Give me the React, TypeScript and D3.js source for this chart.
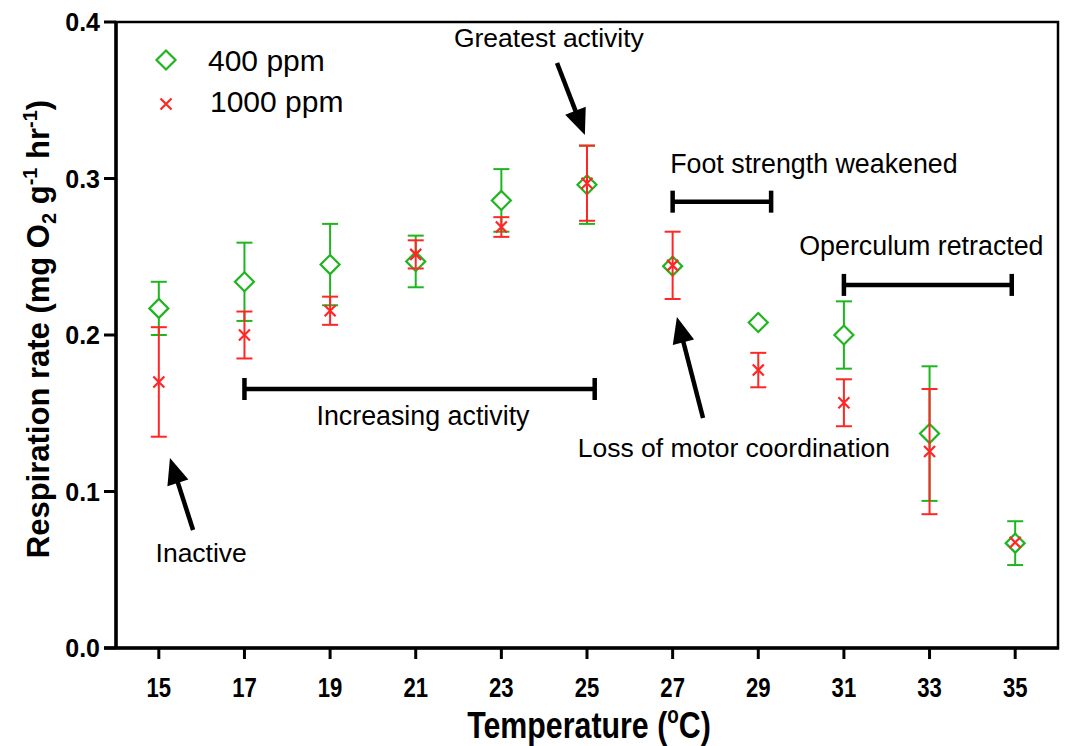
import React from 'react';
import * as d3 from 'd3';

// temperature (°C) and respiration rate (mg O2 g-1 hr-1)
const temps = [15, 17, 19, 21, 23, 25, 27, 29, 31, 33, 35];
const mean400 = [0.217, 0.234, 0.245, 0.247, 0.286, 0.296, 0.244, 0.208, 0.2, 0.137, 0.067];
const err400 = [0.017, 0.025, 0.026, 0.0165, 0.02, 0.025, 0, 0, 0.0215, 0.043, 0.014];
const mean1000 = [0.17, 0.2, 0.2155, 0.2515, 0.269, 0.297, 0.2445, 0.1776, 0.1567, 0.1255, 0.0675];
const err1000 = [0.035, 0.015, 0.009, 0.009, 0.0063, 0.024, 0.0215, 0.011, 0.015, 0.04, 0];
const yTicks = [0, 0.1, 0.2, 0.3, 0.4];

// annotations, in data units
const brackets = [
  { from: 17, to: 25.18, y: 0.1655, label: 'Increasing activity', lx: 21.17, ly: 0.1425 },
  { from: 27, to: 29.3, y: 0.2852, label: 'Foot strength weakened', lx: 30.3, ly: 0.3035 },
  { from: 31, to: 34.92, y: 0.232, label: 'Operculum retracted', lx: 32.81, ly: 0.2511 },
];
const arrows = [
  { x0: 24.3, y0: 0.3738, x1: 24.95, y1: 0.3278, label: 'Greatest activity', lx: 24.11, ly: 0.384 },
  { x0: 15.8, y0: 0.0754, x1: 15.26, y1: 0.1214, label: 'Inactive', lx: 15.99, ly: 0.055 },
  { x0: 27.71, y0: 0.147, x1: 27.1, y1: 0.2115, label: 'Loss of motor coordination', lx: 28.43, ly: 0.122 },
];

const GREEN = '#1fb51f';
const RED = '#ff2626';
const W = 1068;
const H = 746;

export default function App() {
  const x = d3.scaleLinear().domain([14, 36]).range([116, 1058]);
  const y = d3.scaleLinear().domain([0, 0.4]).range([648, 22]);
  const sans = 'Liberation Sans, Arial, sans-serif';
  const capW = 8;

  const errBar = (t: number, m: number, e: number, color: string, key: string) => {
    if (!e) return null;
    const cx = x(t);
    return (
      <g key={key} stroke={color} strokeWidth={2} fill="none">
        <line x1={cx} x2={cx} y1={y(m - e)} y2={y(m + e)} />
        <line x1={cx - capW} x2={cx + capW} y1={y(m + e)} y2={y(m + e)} />
        <line x1={cx - capW} x2={cx + capW} y1={y(m - e)} y2={y(m - e)} />
      </g>
    );
  };

  const diamond = (cx: number, cy: number, r = 9.5) =>
    `M${cx},${cy - r}L${cx + r},${cy}L${cx},${cy + r}L${cx - r},${cy}Z`;
  const cross = (cx: number, cy: number, r = 5.5) =>
    `M${cx - r},${cy - r}L${cx + r},${cy + r}M${cx - r},${cy + r}L${cx + r},${cy - r}`;

  const arrowShape = (a: typeof arrows[0], i: number) => {
    const tx = x(a.x1), ty = y(a.y1), sx = x(a.x0), sy = y(a.y0);
    const dx = tx - sx, dy = ty - sy;
    const len = Math.hypot(dx, dy);
    const ux = dx / len, uy = dy / len;
    const L = 26, hw = 11;
    const bx = tx - ux * L, by = ty - uy * L;
    const pts = [[tx, ty], [bx - uy * hw, by + ux * hw], [bx + uy * hw, by - ux * hw]];
    return (
      <g key={'a' + i}>
        <line x1={sx} y1={sy} x2={bx + ux * 2} y2={by + uy * 2} stroke="#000" strokeWidth={4.5} />
        <polygon points={pts.map(p => p.join(',')).join(' ')} fill="#000" />
        <text x={x(a.lx)} y={y(a.ly)} textAnchor="middle" fontSize={26.5} fontFamily={sans}>{a.label}</text>
      </g>
    );
  };

  return (
    <svg width={W} height={H} style={{ position: 'absolute', left: 0, top: 0, background: '#fff' }}>
      {/* frame */}
      <rect x={116} y={22} width={942} height={626} fill="none" stroke="#000" strokeWidth={2.5} />
      <line x1={104} x2={1059} y1={648} y2={648} stroke="#000" strokeWidth={3.5} />
      <line x1={116} x2={116} y1={21} y2={649} stroke="#000" strokeWidth={3.5} />

      {/* y axis */}
      {yTicks.map(v => (
        <g key={v}>
          <line x1={104} x2={116} y1={y(v)} y2={y(v)} stroke="#000" strokeWidth={3} />
          <text x={100} y={y(v) + 9} textAnchor="end" fontSize={25} fontWeight="bold" fontFamily={sans}>
            {v.toFixed(1)}
          </text>
        </g>
      ))}
      <text transform="translate(49,329) rotate(-90)" textAnchor="middle" fontSize={31} fontWeight="bold" fontFamily={sans}>
        Respiration rate (mg O<tspan fontSize={20} dy={7}>2</tspan>
        <tspan dy={-7}> g</tspan><tspan fontSize={20} dy={-12}>-1</tspan>
        <tspan dy={12}> hr</tspan><tspan fontSize={20} dy={-12}>-1</tspan><tspan dy={12}>)</tspan>
      </text>

      {/* x axis */}
      {temps.map(t => (
        <g key={t}>
          <line x1={x(t)} x2={x(t)} y1={648} y2={659} stroke="#000" strokeWidth={3} />
          <text transform={`translate(${x(t)},697) scale(0.82,1)`} textAnchor="middle" fontSize={27} fontWeight="bold" fontFamily={sans}>
            {t}
          </text>
        </g>
      ))}
      <text transform="translate(589,738) scale(0.82,1)" textAnchor="middle" fontSize={37} fontWeight="bold" fontFamily={sans}>
        Temperature (<tspan fontSize={23} dy={-15}>o</tspan><tspan dy={15}>C)</tspan>
      </text>

      {/* annotations */}
      {brackets.map((b, i) => (
        <g key={'b' + i}>
          <g stroke="#000" strokeWidth={4.5}>
            <line x1={x(b.from)} x2={x(b.to)} y1={y(b.y)} y2={y(b.y)} />
            <line x1={x(b.from)} x2={x(b.from)} y1={y(b.y) - 11} y2={y(b.y) + 11} />
            <line x1={x(b.to)} x2={x(b.to)} y1={y(b.y) - 11} y2={y(b.y) + 11} />
          </g>
          <text x={x(b.lx)} y={y(b.ly)} textAnchor="middle" fontSize={26.8} fontFamily={sans}>{b.label}</text>
        </g>
      ))}
      {arrows.map(arrowShape)}

      {/* 400 ppm */}
      {temps.map((t, i) => errBar(t, mean400[i], err400[i], GREEN, 'g' + i))}
      {temps.map((t, i) => (
        <path key={'d' + i} d={diamond(x(t), y(mean400[i]))} fill="#fff" stroke={GREEN} strokeWidth={2.2} />
      ))}
      {/* 1000 ppm */}
      {temps.map((t, i) => errBar(t, mean1000[i], err1000[i], RED, 'r' + i))}
      {temps.map((t, i) => (
        <path key={'x' + i} d={cross(x(t), y(mean1000[i]))} fill="none" stroke={RED} strokeWidth={2.2} />
      ))}

      {/* legend */}
      <path d={diamond(166, 60)} fill="#fff" stroke={GREEN} strokeWidth={2.2} />
      <text x={208} y={70.5} fontSize={30} fontFamily={sans}>400 ppm</text>
      <path d={cross(166, 104)} fill="none" stroke={RED} strokeWidth={2.2} />
      <text x={210} y={111.5} fontSize={30} fontFamily={sans}>1000 ppm</text>
    </svg>
  );
}
